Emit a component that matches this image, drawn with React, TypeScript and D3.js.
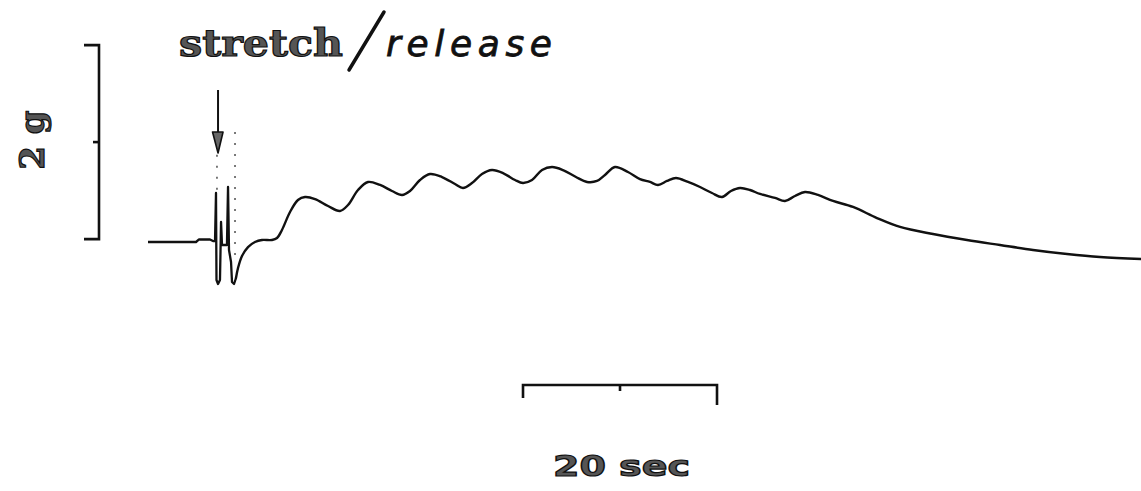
import React from 'react';
import * as d3 from 'd3';

// ---- data (time in seconds, tension in grams, relative to resting baseline) ----
const spikeTime = [0, 4.95, 5.26, 6.39, 6.7, 6.91, 7.01, 7.06, 7.22, 7.42, 7.53, 7.63, 8.14, 8.25, 8.35, 8.56, 8.66, 8.87, 9.07];
const spikeTension = [0, 0, 0.026, 0.026, 0.01, 0.01, 0.505, -0.392, -0.433, -0.392, 0.206, -0.031, -0.031, 0.567, -0.082, -0.206, -0.412, -0.433, -0.371];

const traceTime = [
  9.07, 9.28, 9.69, 10.31, 11.03, 11.75, 12.78, 13.3, 13.81, 14.64, 15.46, 16.19, 17.22, 18.56, 19.79,
  20.62, 21.65, 22.68, 23.92, 25.15, 26.19, 27.01, 28.04, 29.07, 30.31, 31.65, 32.47, 33.4, 34.43,
  35.46, 36.6, 37.84, 38.66, 39.59, 40.62, 41.65, 42.78, 44.12, 45.26, 46.29, 47.11, 48.14, 49.48,
  50.72, 51.75, 52.58, 53.51, 54.43, 55.67, 56.91, 58.14, 59.18, 60.1, 61.03, 62.06, 63.09, 64.64,
  65.67, 66.7, 67.73, 69.07, 70.62, 72.68, 75.15, 77.53, 80.93, 84.43, 87.84, 91.24, 94.74, 98.14, 102.37,
];
const traceTension = [
  -0.371, -0.268, -0.144, -0.052, 0, 0.021, 0.021, 0.041, 0.124, 0.309, 0.433, 0.464, 0.443, 0.371, 0.32,
  0.381, 0.536, 0.619, 0.588, 0.526, 0.485, 0.526, 0.639, 0.701, 0.67, 0.598, 0.557, 0.608, 0.701,
  0.742, 0.711, 0.639, 0.608, 0.639, 0.742, 0.773, 0.742, 0.67, 0.619, 0.629, 0.691, 0.773, 0.722,
  0.649, 0.619, 0.588, 0.629, 0.66, 0.619, 0.567, 0.505, 0.464, 0.526, 0.557, 0.536, 0.495, 0.454,
  0.423, 0.474, 0.515, 0.485, 0.423, 0.361, 0.247, 0.155, 0.082, 0.021, -0.031, -0.082, -0.124, -0.155, -0.175,
];

// faint dotted pen excursions: [time, from tension, to tension]
const dottedTime = [7.11, 8.97];
const dottedFrom = [0.9, 1.134];
const dottedTo = [0.536, -0.165];

// annotations
const stretchTime = 7.22;
const arrowTopTension = 1.567;
const arrowBaseTension = 1.134;
const arrowTipTension = 0.918;
const forceBarBase = 0.03;
const forceBarSize = 2; // g
const timeBarStart = 38.66;
const timeBarSize = 20; // sec
const forceLabel = '2 g';
const timeLabel = '20 sec';
const titleLeft = 'stretch';
const titleRight = 'release';

const W = 1141;
const H = 491;

export default function App() {
  const x = d3.scaleLinear().domain([0, 102.37]).range([148, 1141]);
  const y = d3.scaleLinear().domain([0, 2]).range([242, 48]);

  const spikeData = spikeTime.map((t, i) => [t, spikeTension[i]] as [number, number]);
  const traceData = traceTime.map((t, i) => [t, traceTension[i]] as [number, number]);

  const spikeLine = d3.line<[number, number]>().x((d) => x(d[0])).y((d) => y(d[1])).curve(d3.curveLinear);
  const traceLine = d3.line<[number, number]>().x((d) => x(d[0])).y((d) => y(d[1])).curve(d3.curveCatmullRom.alpha(0.5));

  const barX = 99;
  const yTop = y(forceBarBase + forceBarSize);
  const yBot = y(forceBarBase);
  const yMid = y(forceBarBase + forceBarSize / 2);

  const tb0 = x(timeBarStart);
  const tb1 = x(timeBarStart + timeBarSize);
  const tbMid = x(timeBarStart + timeBarSize / 2);
  const tbY = 385;

  const ax = x(stretchTime);
  const ink = '#111';

  return (
    <svg width={W} height={H} style={{ position: 'absolute', left: 0, top: 0, background: '#fff' }}>
      <rect width={W} height={H} fill="#fff" />

      {/* title */}
      <text x={179} y={56} fontFamily="'DejaVu Serif', serif" fontWeight="bold" fontSize={38}
        textLength={164} lengthAdjust="spacingAndGlyphs" fill="#555" stroke={ink} strokeWidth={1.2}>{titleLeft}</text>
      <line x1={349} y1={70} x2={384} y2={12} stroke={ink} strokeWidth={3.5} strokeLinecap="round" />
      <text x={386} y={56} fontFamily="'DejaVu Sans', sans-serif" fontStyle="italic" fontSize={36}
        textLength={166} lengthAdjust="spacing" fill={ink} stroke={ink} strokeWidth={0.8}>{titleRight}</text>

      {/* force scale bar */}
      <g stroke={ink} strokeWidth={2.6} fill="none">
        <path d={`M${barX - 15},${yTop} L${barX},${yTop} L${barX},${yBot} L${barX - 15},${yBot}`} />
        <line x1={barX - 6} y1={yMid} x2={barX} y2={yMid} />
      </g>
      <text transform={`translate(44, ${(yTop + yBot) / 2 - 2}) rotate(-90)`} textAnchor="middle"
        fontFamily="'DejaVu Serif', serif" fontWeight="bold" fontSize={34} fill="#555" stroke={ink} strokeWidth={1.2}>
        {forceLabel}
      </text>

      {/* stretch arrow */}
      <line x1={ax} y1={y(arrowTopTension)} x2={ax} y2={y(arrowBaseTension)} stroke={ink} strokeWidth={2} />
      <path d={`M${ax - 5.5},${y(arrowBaseTension)} L${ax + 5},${y(arrowBaseTension)} L${ax},${y(arrowTipTension)} Z`}
        fill="#666" stroke={ink} strokeWidth={1.6} strokeLinejoin="round" />

      {/* dotted pen excursions */}
      {dottedTime.map((t, i) => (
        <line key={i} x1={x(t)} x2={x(t)} y1={y(dottedFrom[i])} y2={y(dottedTo[i])}
          stroke="#333" strokeWidth={1.3} strokeDasharray="2 9" />
      ))}

      {/* tension trace */}
      <path d={spikeLine(spikeData) || ''} fill="none" stroke={ink} strokeWidth={2.3} strokeLinejoin="round" />
      <path d={traceLine(traceData) || ''} fill="none" stroke={ink} strokeWidth={2.4} strokeLinejoin="round" strokeLinecap="round" />

      {/* time scale bar */}
      <g stroke={ink} strokeWidth={2.6} fill="none">
        <path d={`M${tb0},${tbY + 13} L${tb0},${tbY} L${tb1},${tbY} L${tb1},${tbY + 20}`} />
        <line x1={tbMid} y1={tbY} x2={tbMid} y2={tbY + 6} />
      </g>
      <text x={553} y={476} fontFamily="'DejaVu Sans', sans-serif" fontWeight="bold" fontSize={29}
        textLength={137} lengthAdjust="spacingAndGlyphs" fill="#555" stroke={ink} strokeWidth={1.2}>{timeLabel}</text>
    </svg>
  );
}
